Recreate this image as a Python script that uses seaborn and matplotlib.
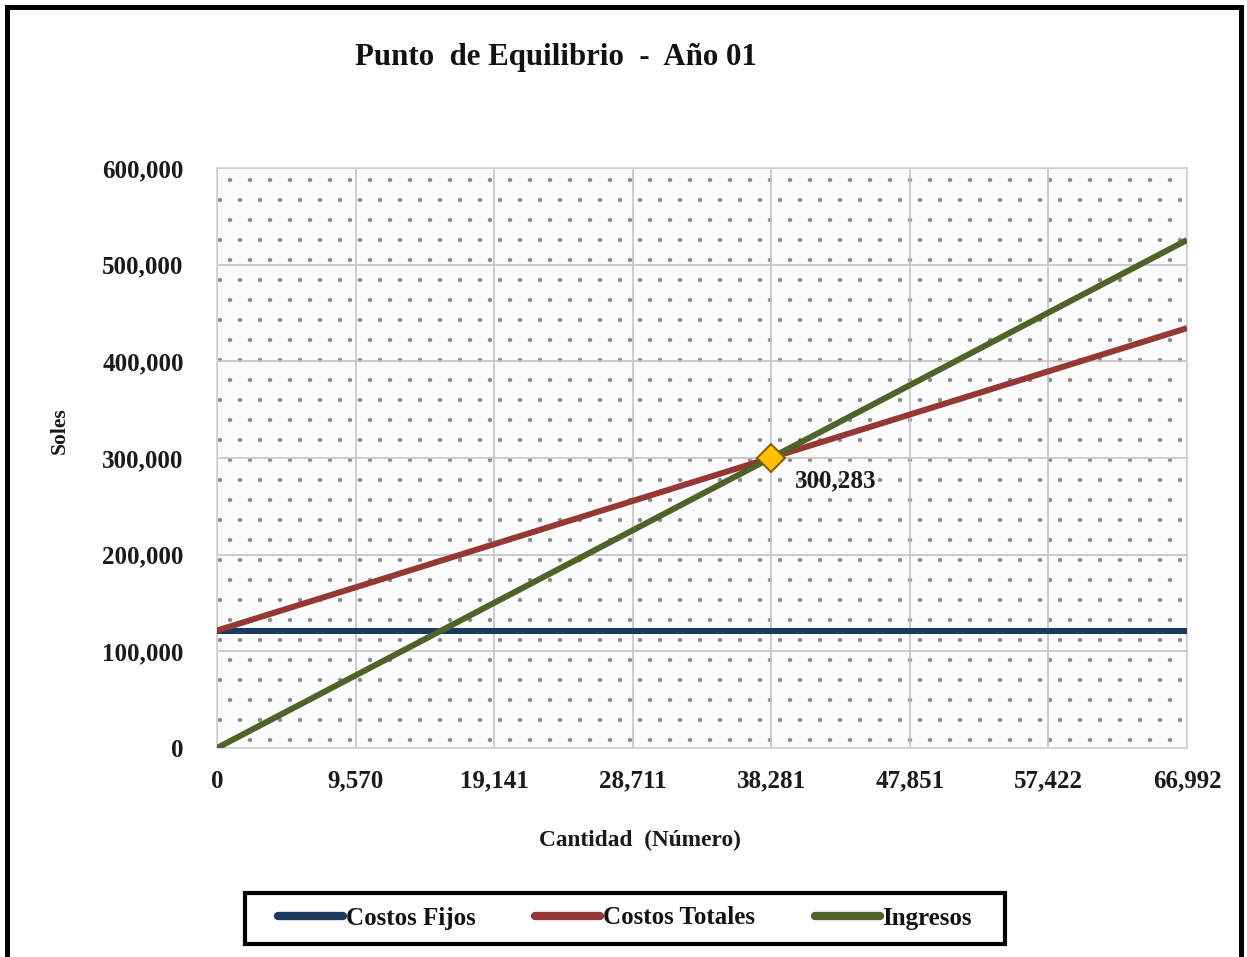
import matplotlib
matplotlib.use("Agg")
import matplotlib.pyplot as plt
from matplotlib.patches import Rectangle
from matplotlib.ticker import FuncFormatter
import seaborn as sns
import pandas as pd

# Break-even data, year 01
cantidad = [0, 9570, 19141, 28711, 38281, 47851, 57422, 66992]
costos_fijos = [121500, 121500, 121500, 121500, 121500, 121500, 121500, 121500]
costos_totales = [121500, 166190, 210890, 255580, 300283, 344960, 389660, 434350]
ingresos = [0, 75070, 150140, 225210, 300283, 375340, 450420, 525490]

series_names = ["Costos Fijos", "Costos Totales", "Ingresos"]
series_colors = ["#1b3a5e", "#953735", "#4f6228"]

equilibrio_q = 38281
equilibrio_soles = 300283

y_ticks = [0, 100000, 200000, 300000, 400000, 500000, 600000]

df = pd.DataFrame({
    "Cantidad": cantidad * 3,
    "Soles": costos_fijos + costos_totales + ingresos,
    "Serie": [series_names[0]] * len(cantidad)
             + [series_names[1]] * len(cantidad)
             + [series_names[2]] * len(cantidad),
})

sns.set_theme(style="white")
plt.rcParams["font.family"] = ["Liberation Serif", "DejaVu Serif"]
plt.rcParams["hatch.linewidth"] = 0.2
plt.rcParams["hatch.color"] = "#8a8a8a"

DPI = 120
W, H = 1247, 957
fig = plt.figure(figsize=(W / DPI, H / DPI), dpi=DPI)
ax = fig.add_axes([217 / W, 1 - 748 / H, 970 / W, 580 / H])

# dotted pattern fill of the plot area
ax.patch.set_facecolor("#fbfbfb")
ax.patch.set_hatch(".")
ax.patch.set_edgecolor("#8a8a8a")

sns.lineplot(data=df, x="Cantidad", y="Soles", hue="Serie",
             palette=dict(zip(series_names, series_colors)),
             linewidth=3.6, ax=ax, legend=False, zorder=3)
for ln in ax.lines:
    ln.set_solid_capstyle("butt")

# break-even marker and its label
ax.plot([equilibrio_q], [equilibrio_soles], marker="D", markersize=12,
        markerfacecolor="#ffc000", markeredgecolor="#8a5a00",
        markeredgewidth=1.2, linestyle="none", zorder=5)
ax.annotate(f"{equilibrio_soles:,}", (equilibrio_q, equilibrio_soles),
            xytext=(14, -14), textcoords="offset points",
            ha="left", va="center", fontsize=15, fontweight="bold",
            color="#1a1a1a", zorder=6)

ax.set_xlim(0, cantidad[-1])
ax.set_ylim(0, 600000)
ax.set_xticks(cantidad)
ax.set_yticks(y_ticks)
fmt = FuncFormatter(lambda v, p: f"{v:,.0f}")
ax.xaxis.set_major_formatter(fmt)
ax.yaxis.set_major_formatter(fmt)
ax.tick_params(axis="both", length=0, labelsize=15, colors="#1a1a1a")
ax.tick_params(axis="x", pad=13)
ax.tick_params(axis="y", pad=20)
for lab in ax.get_xticklabels() + ax.get_yticklabels():
    lab.set_fontweight("bold")

ax.grid(True, color="#c4c4c4", linewidth=1.0, zorder=1)
ax.set_axisbelow(True)
for sp in ax.spines.values():
    sp.set_color("#d0d0d0")
    sp.set_linewidth(1.0)

ax.set_xlabel("Cantidad  (Número)", fontsize=14, fontweight="bold",
              color="#1a1a1a")
ax.set_ylabel("Soles", fontsize=13, fontweight="bold", color="#1a1a1a")
ax.xaxis.set_label_coords(0.436, -0.159)
ax.yaxis.set_label_coords(-0.162, 0.548)
ax.xaxis.label.set_va("center")
ax.yaxis.label.set_va("center")

fig.text(556 / W, 1 - 57 / H, "Punto  de Equilibrio  -  Año 01",
         ha="center", va="center", fontsize=18.5, fontweight="bold",
         color="#111111")

handles = ax.lines[:3]
leg = fig.legend(handles, series_names, loc="center", ncol=3,
                 bbox_to_anchor=(625 / W, 1 - 918 / H),
                 frameon=False, fontsize=15,
                 handlelength=2.6, handletextpad=0.1, columnspacing=2.4)
for line in leg.get_lines():
    line.set_linewidth(5)
    line.set_solid_capstyle("round")
for t in leg.get_texts():
    t.set_fontweight("bold")
    t.set_color("#111111")

# legend box
fig.patches.append(Rectangle((245 / W, 1 - 944 / H), 760 / W, 51 / H,
                             transform=fig.transFigure, fill=True,
                             facecolor="none", edgecolor="black",
                             linewidth=2.5, zorder=9))

# outer chart border
fig.patches.append(Rectangle((7 / W, -0.02), 1234 / W, 1.02 - 6.5 / H,
                             transform=fig.transFigure, fill=False,
                             edgecolor="black", linewidth=3, zorder=10))

fig.savefig("out.png", dpi=DPI)
